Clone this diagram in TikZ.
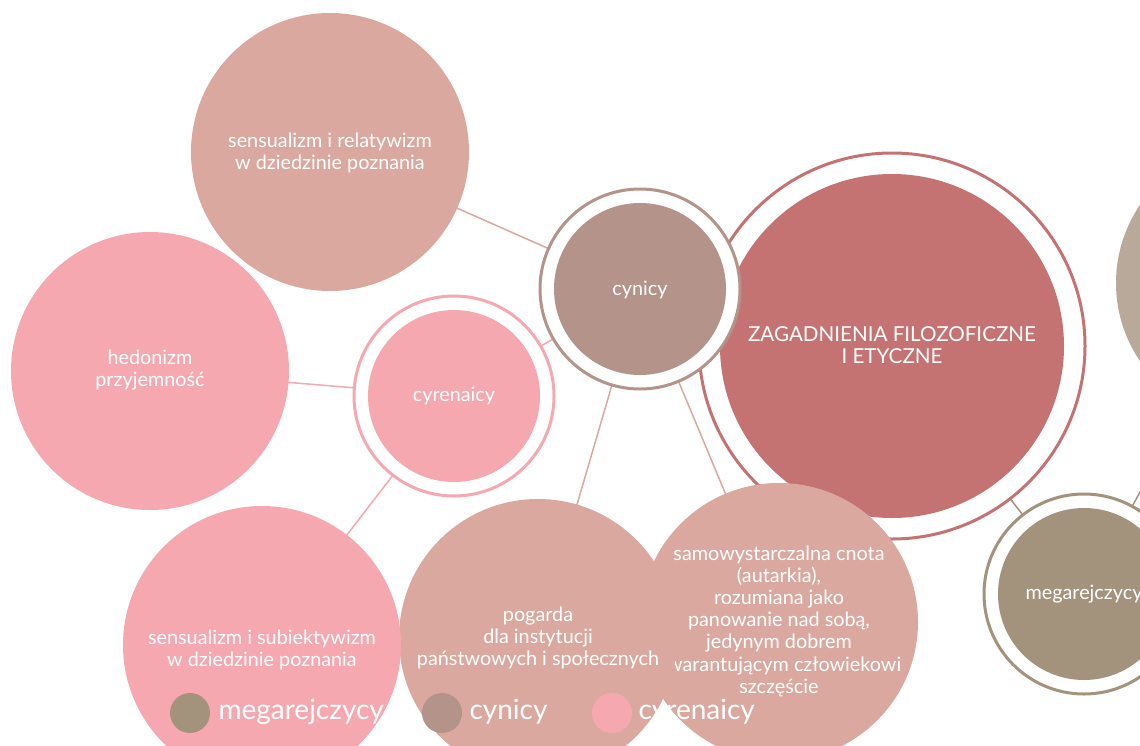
\documentclass[tikz,border=0pt]{standalone}
\usepackage{fontspec}
\setmainfont{Lato}
\usetikzlibrary{backgrounds}
\definecolor{cRed}{RGB}{196,114,114}
\definecolor{cCyn}{RGB}{179,147,138}
\definecolor{cPink}{RGB}{245,168,176}
\definecolor{cRose}{RGB}{218,168,158}
\definecolor{cMeg}{RGB}{163,147,125}
\definecolor{cTaupe}{RGB}{185,169,154}
\begin{document}
\begin{tikzpicture}[x=1pt,y=-1pt,
  bub/.style={circle, inner sep=0pt, minimum size=278pt, fill=#1},
  ringc/.style={circle, inner sep=0pt, minimum size=200pt, draw=#1, line width=3pt, fill=white},
  core/.style={circle, inner sep=0pt, minimum size=172pt, fill=#1},
  lab/.style={text=white, align=center, font=\fontsize{19.8}{22.2}\selectfont},
  conn/.style={line width=1.5pt, draw=#1},
  legdot/.style={circle, inner sep=0pt, minimum size=40pt, fill=#1},
  legtxt/.style={text=white, anchor=west, font=\fontsize{28}{32}\selectfont}]
\useasboundingbox (0,0) rectangle (1140,745);
\clip (0,0) rectangle (1140,745);

% right partial circle
\node[bub=cTaupe] (rt) at (1255,283) {};
% main
\node[circle, inner sep=0pt, minimum size=386pt, draw=cRed, line width=3pt, fill=white] (zagR) at (892,346) {};
\node[circle, inner sep=0pt, minimum size=344pt, fill=cRed] (zag) at (892,346) {};
\node[lab, font=\fontsize{20.6}{22.2}\selectfont] (zagT) at (892,345) {ZAGADNIENIA FILOZOFICZNE\\I ETYCZNE};

\node[bub=cRose] (rel) at (330,152) {};
\node[lab] (relT) at (330,153) {sensualizm i relatywizm\\w dziedzinie poznania};

\node[bub=cPink] (hed) at (150,371) {};
\node[lab] (hedT) at (150,370) {hedonizm\\przyjemność};

\node[ringc=cPink] (cyrR) at (454,396) {};
\node[core=cPink] (cyr) at (454,396) {};
\node[lab] (cyrT) at (454,396) {cyrenaicy};

\node[ringc=cCyn] (cynR) at (640,289) {};
\node[core=cCyn] (cyn) at (640,289) {};
\node[lab] (cynT) at (640,290) {cynicy};

\node[bub=cRose] (sam) at (779,622) {};
\node[lab] (samT) at (779,621) {samowystarczalna cnota\\(autarkia),\\rozumiana jako\\panowanie nad sobą,\\jedynym dobrem\\gwarantującym człowiekowi\\szczęście};

\node[bub=cRose] (pog) at (538,638) {};
\node[lab] (pogT) at (538,638) {pogarda\\dla instytucji\\państwowych i społecznych};

\node[bub=cPink] (sub) at (262,645) {};
\node[lab] (subT) at (262,650) {sensualizm i subiektywizm\\w dziedzinie poznania};

\node[ringc=cMeg] (megR) at (1084,594) {};
\node[core=cMeg] (meg) at (1084,594) {};
\node[lab] (megT) at (1084,594) {megarejczycy};

\begin{pgfonlayer}{background}
  \draw[conn=cRose] (rel.center) -- (cyn.center);
  \draw[conn=cPink] (hed.center) -- (cyr.center);
  \draw[conn=cPink] (cyr.center) -- (cyn.center);
  \draw[conn=cPink] (sub.center) -- (cyr.center);
  \draw[conn=cRose] (pog.center) -- (cyn.center);
  \draw[conn=cRose] (sam.center) -- (cyn.center);
  \draw[conn=cCyn] (cyn.center) -- (zag.center);
  \draw[conn=cMeg] (zag.center) -- (meg.center);
  \draw[conn=cMeg] (rt.center) -- (meg.center);
\end{pgfonlayer}

% legend
\node[legdot=cMeg] (l1) at (190,713) {};
\node[legtxt] (l1T) at (215,712) {megarejczycy};
\node[legdot=cCyn] (l2) at (442,713) {};
\node[legtxt] (l2T) at (466,712) {cynicy};
\node[legdot=cPink] (l3) at (612,713) {};
\node[legtxt] (l3T) at (635,712) {cyrenaicy};
\end{tikzpicture}
\end{document}
